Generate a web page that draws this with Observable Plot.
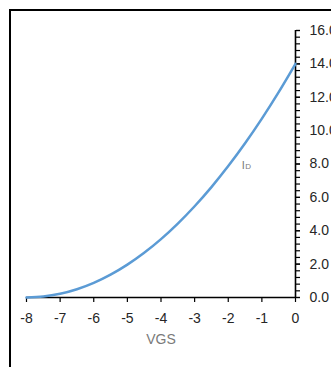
<!DOCTYPE html>
<html>
<head>
<meta charset="utf-8">
<script src="https://cdn.jsdelivr.net/npm/d3@7"></script>
<script src="https://cdn.jsdelivr.net/npm/@observablehq/plot@0.6"></script>
<style>
  html, body { margin: 0; padding: 0; background: #fff; overflow: hidden; }
  #wrap { position: relative; width: 331px; height: 367px; overflow: hidden; }
  #border { position: absolute; left: 9px; top: 9px; width: 400px; height: 400px; border: 2px solid #000; box-sizing: border-box; }
  #chart { position: absolute; left: 0; top: 0; }
</style>
</head>
<body>
<div id="wrap"><div id="border"></div><div id="chart"></div></div>
<script>
const vgs = [-8, -7.5, -7, -6.5, -6, -5.5, -5, -4.5, -4, -3.5, -3, -2.5, -2, -1.5, -1, -0.5, 0];
const id  = [0, 0.055, 0.219, 0.492, 0.875, 1.367, 1.969, 2.680, 3.5, 4.430, 5.469, 6.617, 7.875, 9.242, 10.719, 12.305, 14.0];
const xTicks = [-8, -7, -6, -5, -4, -3, -2, -1, 0];
const yTicks = [0, 2, 4, 6, 8, 10, 12, 14, 16];
const yMinor = d3.range(0, 16.001, 0.4);

const data = vgs.map((v, i) => ({x: v, y: id[i]}));
const font = "Liberation Sans, Arial, sans-serif";

const chart = Plot.plot({
  width: 331,
  height: 367,
  marginLeft: 26,
  marginRight: 36,
  marginTop: 30,
  marginBottom: 70,
  style: {fontFamily: font, background: "transparent", overflow: "visible"},
  x: {domain: [-8, 0]},
  y: {domain: [0, 16]},
  marks: [
    Plot.axisY({anchor: "right", ticks: yMinor, tickSize: 4, tickFormat: () => "", stroke: "#000", strokeWidth: 1.2, label: null}),
    Plot.axisY({anchor: "right", ticks: yTicks, tickSize: 4, tickPadding: 10, tickFormat: d => d.toFixed(1), fontSize: 14, fill: "#262626", stroke: "#000", strokeWidth: 1.2, label: null}),
    Plot.axisX({anchor: "bottom", ticks: xTicks, tickSize: 5, tickPadding: 11, tickFormat: d => String(d), fontSize: 14, fill: "#262626", stroke: "#000", strokeWidth: 1.2, label: null}),
    Plot.ruleY([0], {stroke: "#000", strokeWidth: 1.6}),
    Plot.ruleX([0], {stroke: "#000", strokeWidth: 1.6}),
    Plot.line(data, {x: "x", y: "y", stroke: "#5b9bd5", strokeWidth: 2.5, curve: "catmull-rom"}),
    Plot.text(["VGS"], {frameAnchor: "bottom", dy: 46, fontSize: 14, fill: "#7a7a7a"}),
    Plot.text(["I"], {x: () => -1.6, y: () => 7.9, fontSize: 11, fill: "#7a7a7a", textAnchor: "start"}),
    Plot.text(["D"], {x: () => -1.6, y: () => 7.9, dx: 3.5, dy: 1, fontSize: 8, fill: "#7a7a7a", textAnchor: "start"})
  ]
});
document.getElementById("chart").appendChild(chart);
</script>
</body>
</html>
